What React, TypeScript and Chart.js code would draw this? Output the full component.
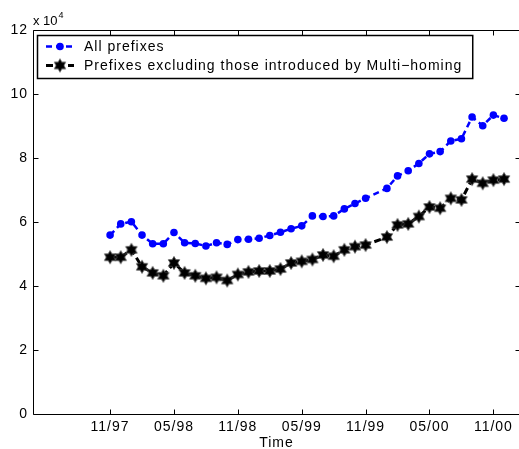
import React, { useEffect, useRef } from 'react';
import { Chart, registerables } from 'chart.js';

Chart.register(...registerables);

// Months counted from 11/97 (0 = 11/97). Month 25 has no sample.
const months = [
  0, 1, 2, 3, 4, 5, 6, 7, 8, 9, 10, 11, 12, 13, 14, 15, 16, 17, 18, 19, 20, 21, 22, 23, 24,
  26, 27, 28, 29, 30, 31, 32, 33, 34, 35, 36, 37,
];
const allPrefixes = [
  55900, 59400, 60100, 55900, 53200, 53200, 56700, 53500, 53300, 52500, 53500, 53000, 54500,
  54600, 54900, 55800, 56800, 57900, 58800, 61900, 61700, 61900, 64100, 65800, 67400,
  70500, 74400, 76000, 78300, 81300, 82000, 85300, 86000, 92800, 90100, 93400, 92400,
];
const excludingMultihoming = [
  49000, 49000, 51300, 46000, 44100, 43200, 47200, 44100, 43200, 42400, 42700, 41700, 43600,
  44400, 44700, 44700, 45300, 47200, 47700, 48300, 49700, 49300, 51300, 52300, 52800,
  55300, 59100, 59400, 61700, 64700, 64300, 67400, 66900, 73400, 72100, 73100, 73400,
];
const seriesLabels = ['All prefixes', 'Prefixes excluding those introduced by Multi\u2212homing'];
const xTickMonths = [0, 6, 12, 18, 24, 30, 36];
const xTickLabels = ['11/97', '05/98', '11/98', '05/99', '11/99', '05/00', '11/00'];
const yTickValues = [0, 20000, 40000, 60000, 80000, 100000, 120000];

const FONT = '"Liberation Sans", Arial, Helvetica, sans-serif';

function makeHexagram(r: number, color: string): HTMLCanvasElement {
  const size = Math.ceil(r * 2 + 3);
  const c = document.createElement('canvas');
  c.width = size;
  c.height = size;
  const ctx = c.getContext('2d')!;
  const cx = size / 2;
  const cy = size / 2;
  ctx.beginPath();
  for (let i = 0; i < 12; i++) {
    const a = -Math.PI / 2 + (i * Math.PI) / 6;
    const rr = i % 2 === 0 ? r : r / Math.sqrt(3);
    const px = cx + rr * Math.cos(a);
    const py = cy + rr * Math.sin(a);
    if (i === 0) ctx.moveTo(px, py);
    else ctx.lineTo(px, py);
  }
  ctx.closePath();
  ctx.fillStyle = color;
  ctx.fill();
  ctx.strokeStyle = '#444';
  ctx.lineWidth = 0.8;
  ctx.stroke();
  return c;
}

const spacingPlugin = {
  id: 'letterSpacing',
  beforeUpdate(chart: any) {
    (chart.ctx as any).letterSpacing = '1px';
  },
  beforeDraw(chart: any) {
    (chart.ctx as any).letterSpacing = '1px';
  },
};

const framePlugin = {
  id: 'matlabFrame',
  afterDraw(chart: any) {
    const { ctx, chartArea: a } = chart;
    const x = chart.scales.x;
    const y = chart.scales.y;
    ctx.save();
    ctx.strokeStyle = '#000';
    ctx.lineWidth = 1;
    const L = Math.round(a.left) + 0.5;
    const R = Math.round(a.right) + 0.5;
    const T = Math.round(a.top) + 0.5;
    const B = Math.round(a.bottom) + 0.5;
    ctx.beginPath();
    ctx.rect(L, T, R - L, B - T);
    ctx.stroke();
    const tl = 5;
    ctx.beginPath();
    x.ticks.forEach((t: any) => {
      const px = Math.round(x.getPixelForValue(t.value)) + 0.5;
      ctx.moveTo(px, B);
      ctx.lineTo(px, B - tl);
      ctx.moveTo(px, T);
      ctx.lineTo(px, T + tl);
    });
    y.ticks.forEach((t: any) => {
      const py = Math.round(y.getPixelForValue(t.value)) + 0.5;
      ctx.moveTo(L, py);
      ctx.lineTo(L + tl, py);
      ctx.moveTo(R, py);
      ctx.lineTo(R - tl, py);
    });
    ctx.stroke();

    // exponent label
    (ctx as any).letterSpacing = '0px';
    ctx.fillStyle = '#000';
    ctx.textAlign = 'left';
    ctx.textBaseline = 'alphabetic';
    ctx.font = `13px ${FONT}`;
    ctx.fillText('x 10', a.left, a.top - 5);
    const w = ctx.measureText('x 10').width;
    ctx.font = `9px ${FONT}`;
    ctx.fillText('4', a.left + w + 1, a.top - 12);

    // legend
    const ds = chart.data.datasets;
    (ctx as any).letterSpacing = '1px';
    ctx.font = `14px ${FONT}`;
    let maxW = 0;
    ds.forEach((d: any) => {
      maxW = Math.max(maxW, ctx.measureText(d.label).width);
    });
    const boxL = a.left + 4;
    const boxT = a.top + 5;
    const textX = boxL + 47;
    const boxR = textX + maxW + 10;
    const boxB = boxT + 43;
    ctx.fillStyle = '#fff';
    ctx.fillRect(boxL, boxT, boxR - boxL, boxB - boxT);
    ctx.lineWidth = 1.5;
    ctx.strokeStyle = '#000';
    ctx.strokeRect(boxL + 0.5, boxT + 0.5, boxR - boxL, boxB - boxT);
    ds.forEach((d: any, i: number) => {
      const cy = boxT + 11.5 + i * 19;
      ctx.save();
      ctx.strokeStyle = d.borderColor;
      ctx.lineWidth = d.borderWidth;
      ctx.setLineDash(d.borderDash);
      ctx.beginPath();
      ctx.moveTo(boxL + 9, cy);
      ctx.lineTo(boxL + 37, cy);
      ctx.stroke();
      ctx.restore();
      const mx = boxL + 23;
      if (d.pointStyle === 'circle') {
        ctx.fillStyle = d.pointBackgroundColor;
        ctx.beginPath();
        ctx.arc(mx, cy, d.pointRadius, 0, Math.PI * 2);
        ctx.fill();
      } else {
        const img = d.pointStyle as HTMLCanvasElement;
        ctx.drawImage(img, mx - img.width / 2, cy - img.height / 2);
      }
      ctx.fillStyle = '#000';
      ctx.textBaseline = 'middle';
      ctx.font = `14px ${FONT}`;
      ctx.fillText(d.label, textX, cy + 1);
    });
    ctx.restore();
  },
};

export default function App() {
  const ref = useRef<HTMLCanvasElement>(null);
  useEffect(() => {
    const canvas = ref.current!;
    const star = makeHexagram(6.5, '#000');
    const chart = new Chart(canvas, {
      type: 'line',
      data: {
        datasets: [
          {
            label: seriesLabels[0],
            data: months.map((m, i) => ({ x: m, y: allPrefixes[i] })),
            borderColor: '#0000ff',
            backgroundColor: '#0000ff',
            borderWidth: 2.5,
            borderDash: [6, 4],
            pointStyle: 'circle',
            pointRadius: 3.8,
            pointBackgroundColor: '#0000ff',
            pointBorderColor: '#0000ff',
            pointBorderWidth: 0,
            tension: 0,
            fill: false,
          },
          {
            label: seriesLabels[1],
            data: months.map((m, i) => ({ x: m, y: excludingMultihoming[i] })),
            borderColor: '#000000',
            backgroundColor: '#000000',
            borderWidth: 3,
            borderDash: [7, 4],
            pointStyle: star as any,
            pointRadius: 6.5,
            pointBackgroundColor: '#000',
            pointBorderColor: '#000',
            tension: 0,
            fill: false,
          },
        ],
      },
      options: {
        responsive: false,
        animation: false,
        events: [],
        layout: { autoPadding: false, padding: { top: 30, right: 2, left: 0, bottom: 0 } },
        plugins: {
          legend: { display: false },
          tooltip: { enabled: false },
        },
        scales: {
          x: {
            type: 'linear',
            min: -7.24,
            max: 38.5,
            grid: { display: false, drawTicks: false },
            border: { display: false },
            afterBuildTicks: (scale: any) => {
              scale.ticks = xTickMonths.map((v) => ({ value: v }));
            },
            afterFit: (scale: any) => {
              scale.height = 46;
              scale.paddingLeft = 0;
              scale.paddingRight = 0;
            },
            ticks: {
              autoSkip: false,
              maxRotation: 0,
              padding: 5,
              color: '#000',
              font: { family: FONT, size: 14 },
              callback: (v: any) => {
                const idx = xTickMonths.indexOf(Number(v));
                return idx >= 0 ? xTickLabels[idx] : '';
              },
            },
            title: {
              display: true,
              text: 'Time',
              color: '#000',
              font: { family: FONT, size: 14 },
              padding: { top: 0, bottom: 8 },
            },
          },
          y: {
            type: 'linear',
            min: 0,
            max: 120000,
            grid: { display: false, drawTicks: false },
            border: { display: false },
            afterBuildTicks: (scale: any) => {
              scale.ticks = yTickValues.map((v) => ({ value: v }));
            },
            afterFit: (scale: any) => {
              scale.width = 33;
              scale.paddingTop = 0;
              scale.paddingBottom = 0;
            },
            ticks: {
              padding: 5,
              color: '#000',
              font: { family: FONT, size: 14 },
              callback: (v: any) => String(Number(v) / 10000),
            },
          },
        },
      },
      plugins: [spacingPlugin, framePlugin],
    });
    return () => chart.destroy();
  }, []);
  return (
    <div style={{ position: 'fixed', left: 0, top: 0, width: 522, height: 460, background: '#fff' }}>
      <canvas ref={ref} width={522} height={460} style={{ display: 'block' }} />
    </div>
  );
}
